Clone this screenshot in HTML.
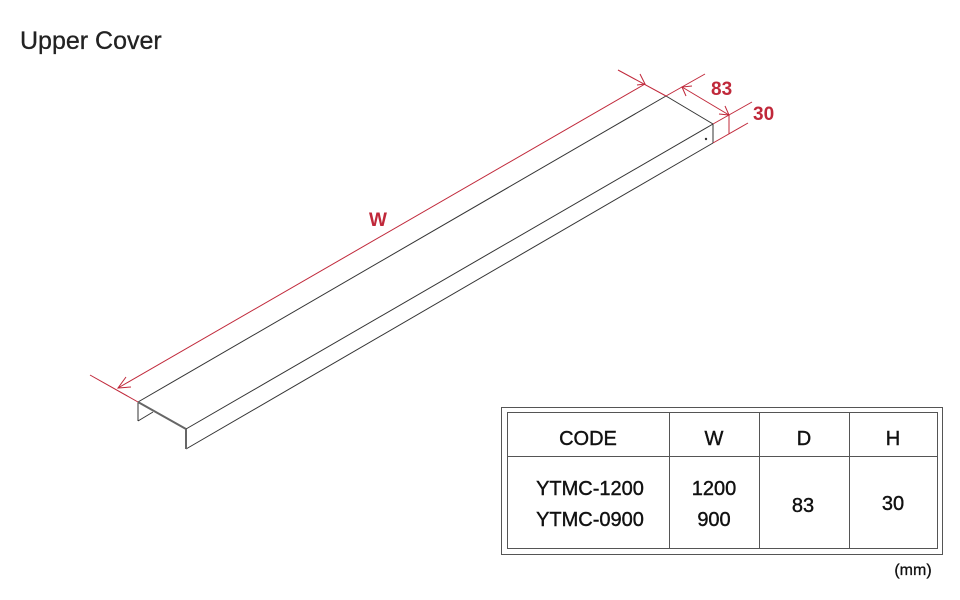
<!DOCTYPE html>
<html><head><meta charset="utf-8"><style>
html,body{margin:0;padding:0;background:#fff;width:960px;height:600px;overflow:hidden}
svg text{font-family:"Liberation Sans",sans-serif}
</style></head><body>
<svg width="960" height="600" viewBox="0 0 960 600" xmlns="http://www.w3.org/2000/svg">
<text x="20" y="49" font-size="25" fill="#222" stroke="#222" stroke-width="0.3">Upper Cover</text>
<g stroke="#333" stroke-width="1" fill="none">
<line x1="138" y1="402" x2="666" y2="96"/>
<line x1="666" y1="96" x2="713" y2="124"/>
<line x1="186" y1="429" x2="713" y2="124"/>
<line x1="713" y1="124" x2="713" y2="143"/>
<line x1="186" y1="449" x2="713" y2="143"/>
<line x1="138" y1="402" x2="138" y2="421"/>
<line x1="138" y1="421" x2="153" y2="412"/>
<line x1="138" y1="402" x2="186" y2="429" stroke-width="2" stroke="#666"/>
<line x1="186" y1="429" x2="186" y2="449" stroke-width="2" stroke="#666"/>
</g>
<circle cx="706" cy="139" r="1.2" fill="#333"/>
<g stroke="#c0283a" stroke-width="1" fill="none">
<line x1="90" y1="375" x2="138" y2="402"/>
<line x1="618" y1="70" x2="666" y2="96"/>
<line x1="118" y1="388" x2="645" y2="84"/>
<polyline points="126,377 118,388 131,387"/>
<polyline points="637,85 645,84 640,74"/>
<line x1="666" y1="96" x2="705" y2="74"/>
<line x1="713" y1="124" x2="752" y2="102"/>
<line x1="682" y1="87" x2="729" y2="115"/>
<polyline points="686,96 682,87 692,86"/>
<polyline points="719,114 729,115 725,106"/>
<line x1="713" y1="143" x2="748" y2="123"/>
<line x1="729" y1="115" x2="729" y2="134"/>
</g>
<g fill="#c0283a" font-weight="bold" font-size="19">
<text x="711" y="95">83</text>
<text x="753" y="120">30</text>
<text x="369" y="226">W</text>
</g>
<g stroke="#555" fill="none" stroke-width="1">
<rect x="501.5" y="407.5" width="441" height="147"/>
<rect x="507.5" y="412.5" width="430" height="136"/>
<line x1="669.5" y1="412" x2="669.5" y2="549"/>
<line x1="759.5" y1="412" x2="759.5" y2="549"/>
<line x1="849.5" y1="412" x2="849.5" y2="549"/>
<line x1="507" y1="456.5" x2="938" y2="456.5"/>
</g>
<g font-size="20" fill="#111" stroke="#111" stroke-width="0.4" text-anchor="middle">
<text x="588" y="445">CODE</text>
<text x="714" y="445">W</text>
<text x="804" y="445">D</text>
<text x="893" y="445">H</text>
<text x="590" y="495">YTMC-1200</text>
<text x="590" y="526">YTMC-0900</text>
<text x="714" y="495">1200</text>
<text x="714" y="526">900</text>
<text x="803" y="512">83</text>
<text x="893" y="510">30</text>
<text x="913" y="575" font-size="16" stroke-width="0.3">(mm)</text>
</g>
</svg>
</body></html>
